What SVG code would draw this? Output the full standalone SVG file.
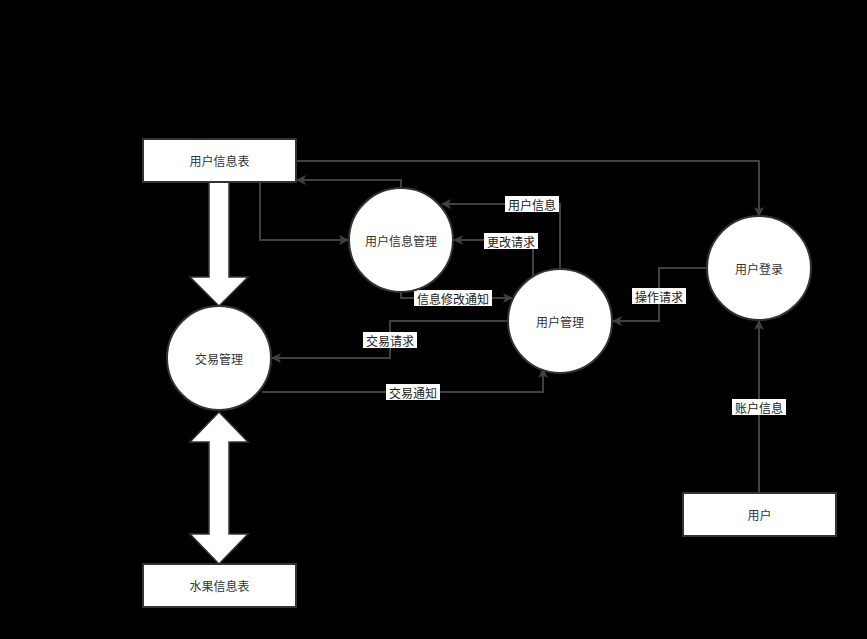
<svg xmlns="http://www.w3.org/2000/svg" width="867" height="639" viewBox="0 0 867 639">
<defs>
<marker id="ah" viewBox="0 0 10 10" refX="9" refY="5" markerWidth="10" markerHeight="10" markerUnits="userSpaceOnUse" orient="auto">
<path d="M0,0 L10,5 L0,10 L2.5,5 Z" fill="#404040"/>
</marker>
<style>
.n{fill:#fff;stroke:#333;stroke-width:2}
.t{font-family:"Noto Sans CJK SC","Liberation Sans",sans-serif;font-size:12px;fill:#333;text-anchor:middle;dominant-baseline:central}
.c{fill:none;stroke:#404040;stroke-width:2;marker-end:url(#ah)}
.lb{fill:#fff}
.lt{font-family:"Noto Sans CJK SC","Liberation Sans",sans-serif;font-size:12px;fill:#222;text-anchor:middle;dominant-baseline:central}
.big{fill:#fff;stroke:#333;stroke-width:1.5}
</style>
</defs>
<rect width="867" height="639" fill="#000"/>
<g id="connectors">
<polyline class="c" points="296,161 759,161 759,216"/>
<polyline class="c" points="401,188 401,180 297,180"/>
<polyline class="c" points="260,182 260,240 348,240"/>
<polyline class="c" points="560,269 560,204 442,204"/>
<polyline class="c" points="533,277 533,240 454,240"/>
<polyline class="c" points="401,292 401,298 512,298"/>
<polyline class="c" points="508,321 390,321 390,358 272,358"/>
<polyline class="c" points="262,392 543,392 543,369"/>
<polyline class="c" points="707,268 659,268 659,321 613,321"/>
<polyline class="c" points="759,493 759,321"/>
<path class="big" d="M209,182 L229,182 L229,277 L248,277 L219,306 L190,277 L209,277 Z"/>
<path class="big" d="M219,412 L248,442 L229,442 L229,534 L248,534 L219,564 L190,534 L209,534 L209,442 L190,442 Z"/>
<rect class="lb" x="505" y="196" width="54" height="16"/>
<text class="lt" x="532" y="204">用户信息</text>
<rect class="lb" x="484" y="233" width="54" height="16"/>
<text class="lt" x="511" y="241">更改请求</text>
<rect class="lb" x="414" y="290" width="78" height="16"/>
<text class="lt" x="453" y="298">信息修改通知</text>
<rect class="lb" x="363" y="332" width="54" height="16"/>
<text class="lt" x="390" y="340">交易请求</text>
<rect class="lb" x="386" y="384" width="54" height="16"/>
<text class="lt" x="413" y="392">交易通知</text>
<rect class="lb" x="632" y="288" width="54" height="16"/>
<text class="lt" x="659" y="296">操作请求</text>
<rect class="lb" x="732" y="399" width="54" height="16"/>
<text class="lt" x="759" y="407">账户信息</text>
</g>
<g id="user-info-table">
<rect class="n" x="143" y="139" width="153" height="43"/>
<text class="t" x="219.5" y="160.5">用户信息表</text>
</g>
<g id="user-info-mgmt">
<circle class="n" cx="401" cy="240" r="52"/>
<text class="t" x="401" y="240">用户信息管理</text>
</g>
<g id="user-mgmt">
<circle class="n" cx="560" cy="321" r="52"/>
<text class="t" x="560" y="321">用户管理</text>
</g>
<g id="user-login">
<circle class="n" cx="759" cy="268" r="52"/>
<text class="t" x="759" y="268">用户登录</text>
</g>
<g id="trade-mgmt">
<circle class="n" cx="219" cy="358" r="52"/>
<text class="t" x="219" y="358">交易管理</text>
</g>
<g id="fruit-table">
<rect class="n" x="143" y="564" width="153" height="43"/>
<text class="t" x="219.5" y="585.5">水果信息表</text>
</g>
<g id="user">
<rect class="n" x="683" y="493" width="153" height="43"/>
<text class="t" x="759.5" y="514.5">用户</text>
</g>
</svg>
